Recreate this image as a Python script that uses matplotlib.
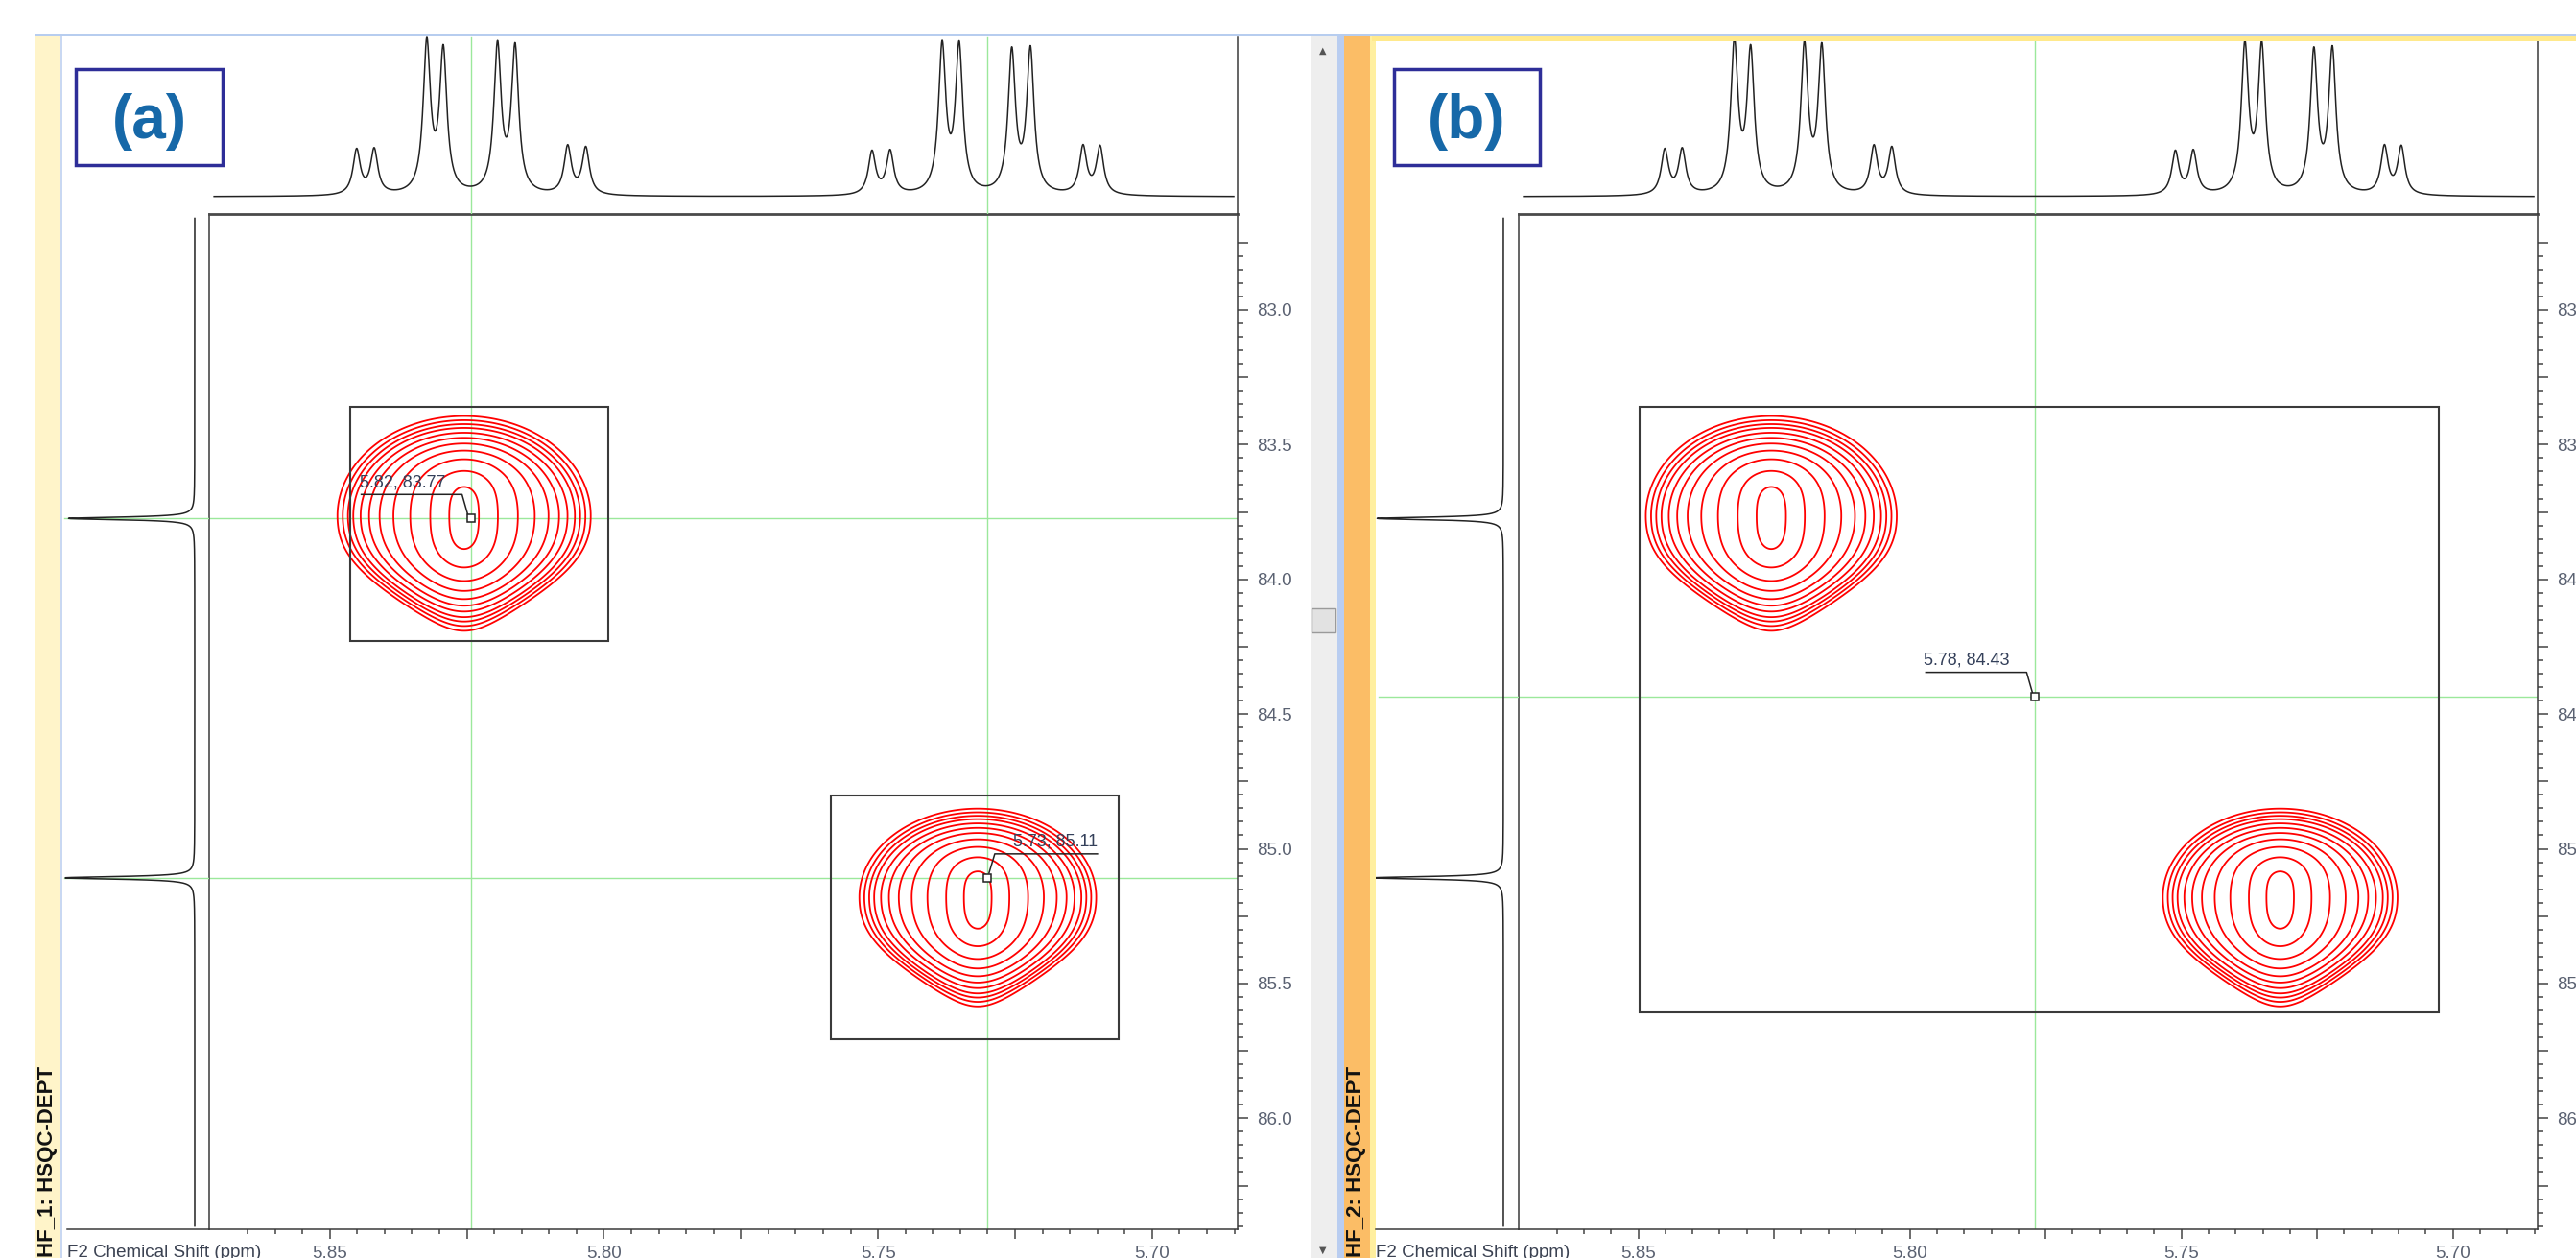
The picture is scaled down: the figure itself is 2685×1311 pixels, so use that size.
import numpy as np
import matplotlib
matplotlib.use("Agg")
import matplotlib.pyplot as plt
from matplotlib.patches import Rectangle
from matplotlib.lines import Line2D
from matplotlib.ticker import FixedLocator, MultipleLocator, FuncFormatter
from matplotlib.transforms import IdentityTransform, ScaledTranslation

plt.rcParams['font.family'] = ['Liberation Sans', 'DejaVu Sans']

W, H, DPI = 2685, 1311, 100

# ---------------- data ----------------
# 1H multiplet lines (F2, ppm) and relative heights
h_shift = [5.8451, 5.8419, 5.8323, 5.8293, 5.8194, 5.8162, 5.8066, 5.8033,
           5.7511, 5.7478, 5.7383, 5.7352, 5.7256, 5.7222, 5.7126, 5.7095]
h_height = [0.30, 0.30, 1.00, 0.946, 0.982, 0.970, 0.32, 0.313,
            0.289, 0.289, 0.982, 0.976, 0.946, 0.958, 0.319, 0.319]
h_hwhm = 0.00080

# 13C projection lines (F1, ppm)
c_shift = [83.774, 85.108]
c_height = [0.97, 1.0]
c_hwhm = 0.006

# HSQC cross-peaks: centre (F2, F1), outer-contour F2 half-width, F1 reach up / down
xpk_f2 = [5.8255, 5.7318]
xpk_f1 = [83.764, 85.179]
xpk_w2 = [0.0231, 0.0216]
xpk_up = [0.370, 0.328]
xpk_dn = [0.427, 0.406]
# contour levels, as fraction of the outer contour half-width
contour_levels = [0.117, 0.267, 0.425, 0.558, 0.667, 0.75, 0.817, 0.875, 0.917, 0.958, 1.0]

# cursor positions (F2, F1)
cur_a_f2 = [5.8243, 5.7301]
cur_a_f1 = [83.774, 85.108]
cur_b_f2 = [5.7769]
cur_b_f1 = [84.434]

# integration regions: (F2 left, F2 right, F1 top, F1 bottom)
box_a = [(5.8463, 5.7992, 83.360, 84.229), (5.7586, 5.7061, 84.802, 85.707)]
box_b = [(5.8498, 5.7026, 83.360, 85.607)]

f2_limits = (5.8720, 5.6844)
f1_limits = (82.644, 86.412)
f2_major = [5.85, 5.80, 5.75, 5.70]
f1_major = [83.0, 83.5, 84.0, 84.5, 85.0, 85.5, 86.0]

# ---------------- styling ----------------
RED = '#ff0000'
GREEN = '#9be89b'
AXC = '#3a3a3a'
LABC = '#5b6272'
TICK_FS = 13.5

fig = plt.figure(figsize=(W / DPI, H / DPI), dpi=DPI)
fig.patch.set_facecolor('white')


def fr(x0, y0, x1, y1):
    return [x0 / W, 1 - y1 / H, (x1 - x0) / W, (y1 - y0) / H]


def band(x0, y0, x1, y1, color, z=-5, ec='none', lw=0):
    fig.add_artist(Rectangle((x0 / W, 1 - y1 / H), (x1 - x0) / W, (y1 - y0) / H,
                             transform=fig.transFigure, facecolor=color,
                             edgecolor=ec, linewidth=lw, zorder=z))


def seg(x0, y0, x1, y1, **kw):
    fig.add_artist(Line2D([x0 / W, x1 / W], [1 - y0 / H, 1 - y1 / H],
                          transform=fig.transFigure, **kw))


# window chrome
band(36, 35, W, 38, '#b7cdef')
band(37, 38, 63, H, '#fff4c9')
band(63, 38, 65, H, '#c9d8f2')
band(1366, 38, 1394, H, '#eeeeee')
band(1394, 38, 1401, H, '#b9cdf0')
band(1401, 38, 1428, H, '#fbbd66')
band(1428, 38, 1434, H, '#ffef9f')
band(1367, 634, 1392, 659, '#e2e2e2', z=-4, ec='#9a9a9a', lw=1)
fig.text(1379 / W, 1 - 53 / H, '\u25b2', family='DejaVu Sans', fontsize=7,
         color='#555555', ha='center', va='center')
fig.text(1379 / W, 1 - 1303 / H, '\u25bc', family='DejaVu Sans', fontsize=7,
         color='#555555', ha='center', va='center')


def lorentz(axis, centres, heights, hwhm):
    out = np.zeros_like(axis)
    for c, h in zip(centres, heights):
        out += h / (1.0 + ((axis - c) / hwhm) ** 2)
    return out * (max(heights) / out.max())


def crosspeak_distance(F2, F1):
    """Normalised distance from each cross-peak centre; contour k sits at level k."""
    d = np.full(F2.shape, np.inf)
    for c2, c1, w2, up, dn in zip(xpk_f2, xpk_f1, xpk_w2, xpk_up, xpk_dn):
        dy = F1 - c1
        v = np.where(dy < 0, -dy / up, dy / dn)
        vdown = np.where(dy > 0, dy / dn, 0.0)
        u = (F2 - c2) / w2 * (1.0 + 0.8 * vdown ** 3)
        r = np.sqrt(u ** 2 + v ** 2)
        # low contours are taller than wide, outer ones round
        stretch = 1.0 + 4.1 * np.clip(1.0 - r, 0.0, 1.0) ** 3
        d = np.minimum(d, np.sqrt(u ** 2 + (v / stretch) ** 2))
    return d


f2_grid = np.linspace(f2_limits[1], f2_limits[0], 1000)
f1_grid = np.linspace(f1_limits[0], f1_limits[1], 1000)
G2, G1 = np.meshgrid(f2_grid, f1_grid)
D = crosspeak_distance(G2, G1)

f2_line = np.linspace(5.8711, 5.6851, 4000)
h_trace = lorentz(f2_line, h_shift, h_height, h_hwhm)
f1_line = np.linspace(82.66, 86.40, 4000)
c_trace = lorentz(f1_line, c_shift, c_height, c_hwhm)


def is_major(v, majors):
    return any(abs(v - m) < 1e-6 for m in majors)


def readout(ax, x, y, side):
    t = IdentityTransform() + ScaledTranslation(x, y, ax.transData)
    label = f"{x:.2f}, {y:.2f}"
    if side == 'left':
        ax.add_line(Line2D([-114, -9, -3], [25, 25, 4], transform=t,
                           color='#222222', lw=1.1, zorder=6))
        ax.text(-116, 33, label, transform=t, ha='left', va='baseline',
                fontsize=13, color='#34405a', zorder=6)
    else:
        ax.add_line(Line2D([115, 8, 2], [25, 25, 5], transform=t,
                           color='#222222', lw=1.1, zorder=6))
        ax.text(115, 33, label, transform=t, ha='right', va='baseline',
                fontsize=13, color='#34405a', zorder=6)
    ax.plot([x], [y], marker='s', ms=5.5, mfc='white', mec='#222222',
            mew=1.1, zorder=7)


def panel(box_l, box_r, frame_l, vspec_l, vbase, spec_top, curs_f2, curs_f1,
          sides, boxes, tag, tag_box, title, title_x):
    top, bot = 223, 1281
    # 2D map
    ax = fig.add_axes(fr(box_l, top, box_r, bot))
    ax.set_facecolor('none')
    ax.set_xlim(*f2_limits)
    ax.set_ylim(f1_limits[1], f1_limits[0])
    ax.contour(G2, G1, D, levels=contour_levels, colors=RED, linewidths=1.3,
               zorder=3)
    for b in boxes:
        ax.add_patch(Rectangle((b[1], b[2]), b[0] - b[1], b[3] - b[2],
                               fill=False, edgecolor=AXC, lw=1.5, zorder=4))
    for x in curs_f2:
        ax.axvline(x, color=GREEN, lw=1.0, zorder=1)
    for y in curs_f1:
        ax.axhline(y, color=GREEN, lw=1.0, zorder=1)
    for x, y, s in zip(curs_f2, curs_f1, sides):
        readout(ax, x, y, s)
    for sp in ax.spines.values():
        sp.set_color(AXC)
        sp.set_linewidth(1.1)
    ax.spines['top'].set_linewidth(2.0)
    ax.spines['top'].set_color('#4a4a4a')
    ax.xaxis.set_major_locator(MultipleLocator(0.025))
    ax.xaxis.set_minor_locator(FixedLocator(np.arange(5.685, 5.8651, 0.005)))
    ax.xaxis.set_major_formatter(FuncFormatter(
        lambda v, _: f"{v:.2f}" if is_major(v, f2_major) else ""))
    ax.yaxis.set_major_locator(MultipleLocator(0.25))
    ax.yaxis.set_minor_locator(FixedLocator(np.arange(82.75, 86.41, 0.05)))
    ax.yaxis.set_major_formatter(FuncFormatter(
        lambda v, _: f"{v:.1f}" if is_major(v, f1_major) else ""))
    ax.yaxis.tick_right()
    ax.tick_params(axis='x', which='major', direction='out', length=7.2,
                   width=1.1, color='#444444', pad=5, labelsize=TICK_FS,
                   labelcolor=LABC)
    ax.tick_params(axis='x', which='minor', direction='out', length=3.6,
                   width=1.1, color='#444444')
    ax.tick_params(axis='y', which='major', direction='out', length=8,
                   width=1.1, color='#444444', pad=6.5, labelsize=TICK_FS,
                   labelcolor=LABC, left=False, right=True)
    ax.tick_params(axis='y', which='minor', direction='out', length=4.3,
                   width=1.1, color='#444444', left=False, right=True)

    # 1H trace on top
    unit_h = 166.0
    axt = fig.add_axes(fr(box_l, 30, box_r, top))
    axt.set_facecolor('none')
    axt.set_xlim(*f2_limits)
    axt.set_ylim(-(top - 205) / unit_h, (205 - 30) / unit_h)
    axt.axis('off')
    for x in curs_f2:
        axt.plot([x, x], [-(top - 205) / unit_h, (205 - spec_top) / unit_h],
                 color=GREEN, lw=1.0, zorder=1)
    axt.plot(f2_line, h_trace, color='#222222', lw=1.1, zorder=3)

    # 13C trace on the left
    unit_c = 135.0
    axl = fig.add_axes(fr(vspec_l, top, box_l, bot))
    axl.set_facecolor('none')
    axl.set_ylim(f1_limits[1], f1_limits[0])
    axl.set_xlim((vbase - vspec_l) / unit_c, -(box_l - vbase) / unit_c)
    axl.axis('off')
    for y in curs_f1:
        axl.plot([-(box_l - vbase) / unit_c, (vbase - vspec_l - 3) / unit_c],
                 [y, y], color=GREEN, lw=1.0, zorder=1)
    axl.plot(c_trace, f1_line, color='#222222', lw=1.1, zorder=3)

    # frame extensions along the bottom and right edges
    seg(frame_l, bot, box_l, bot, color=AXC, lw=1.1, zorder=2)
    seg(box_r, spec_top, box_r, top, color=AXC, lw=1.1, zorder=2)

    fig.text(frame_l / W, 1 - 1297 / H, 'F2 Chemical Shift (ppm)',
             fontsize=TICK_FS, color='#3b4252', ha='left', va='top')

    # panel tag
    x0, y0, x1, y1 = tag_box
    band(x0, y0, x1, y1, 'white', z=5, ec='#2e2e98', lw=2.5)
    fig.text((x0 + x1) / 2 / W, 1 - 127 / H, tag, fontsize=46,
             fontweight='bold', color='#1668a8', ha='center', va='center',
             zorder=6)

    # vertical title in the side strip
    fig.text(title_x / W, 1 - 1310 / H, title, rotation=90, fontsize=16,
             fontweight='bold', color='#111111', ha='center', va='bottom')


panel(218, 1290, 70, 64, 203, 39, cur_a_f2, cur_a_f1, ['left', 'right'],
      box_a, '(a)', (79, 72, 232, 172), 'HF_1: HSQC-DEPT', 50)
panel(1583, 2645, 1434, 1434, 1567, 43, cur_b_f2, cur_b_f1, ['left'],
      box_b, '(b)', (1453, 72, 1605, 172), 'HF_2: HSQC-DEPT', 1414)

# yellow header band of the active window
band(1430, 38, W, 43, '#ffe98c', z=8)

fig.savefig('out.png', dpi=DPI)
